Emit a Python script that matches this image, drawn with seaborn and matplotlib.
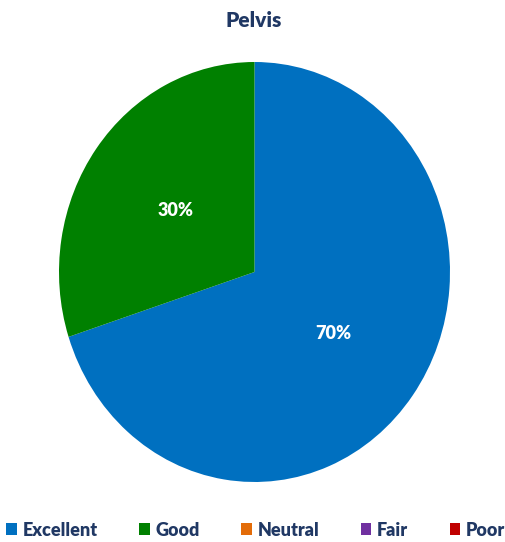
import matplotlib
matplotlib.use("Agg")
import matplotlib.pyplot as plt
import seaborn as sns
from matplotlib.patches import Patch

# data
categories = ["Excellent", "Good", "Neutral", "Fair", "Poor"]
values = [70, 30, 0, 0, 0]
colors = ["#0070C0", "#008000", "#E36C09", "#7030A0", "#C00000"]
title = "Pelvis"
text_color = "#203864"

sns.set_theme(style="white")
plt.rcParams["font.family"] = ["Lato", "DejaVu Sans"]

fig = plt.figure(figsize=(5.06, 5.42), dpi=100)
# pie in the reference is slightly taller than wide
ax = fig.add_axes([59 / 506, 60 / 542, 391 / 506, 420 / 542])

# only non-zero slices are drawn
shown = [(v, c) for v, c in zip(values, colors) if v > 0]
wedges, texts, autotexts = ax.pie(
    [v for v, c in shown],
    colors=[c for v, c in shown],
    startangle=90,
    counterclock=False,
    autopct="%1.0f%%",
    pctdistance=0.5,
    radius=1,
    wedgeprops={"linewidth": 0},
    textprops={"color": "white", "fontsize": 13, "fontweight": "heavy"},
)
ax.set_xlim(-1, 1)
ax.set_ylim(-1, 1)
ax.set_aspect("auto")
ax.axis("off")

fig.text(0.502, 0.963, title, ha="center", va="center", fontsize=15,
         fontweight="heavy", color=text_color)

handles = [Patch(facecolor=c, edgecolor="none") for c in colors]
leg = fig.legend(handles, categories, loc="center", bbox_to_anchor=(0.505, 0.022),
                 ncol=5, frameon=False, handlelength=0.6, handleheight=0.6,
                 handletextpad=0.3, columnspacing=2.3, borderpad=0,
                 prop={"size": 13, "weight": "heavy"})
for t in leg.get_texts():
    t.set_color(text_color)

fig.savefig("out.png", dpi=100)
